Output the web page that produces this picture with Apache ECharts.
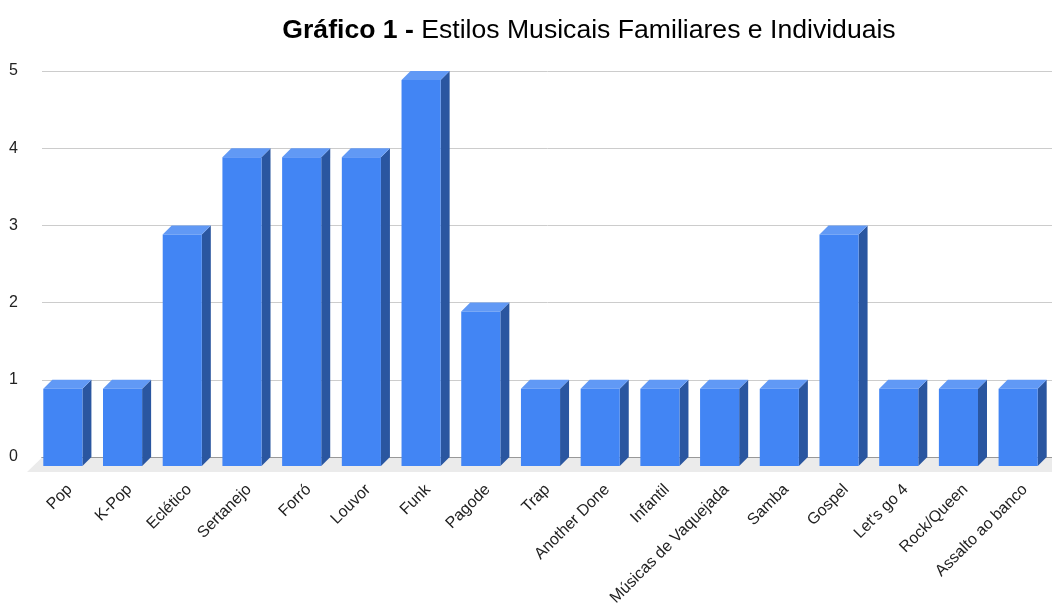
<!DOCTYPE html>
<html>
<head>
<meta charset="utf-8">
<script src="https://cdn.jsdelivr.net/npm/echarts@6/dist/echarts.min.js"></script>
<style>html,body{margin:0;padding:0;background:#fff}#c{width:1052px;height:609px}</style>
</head>
<body>
<div id="c"></div>
<script>
var categories = ["Pop","K-Pop","Eclético","Sertanejo","Forró","Louvor","Funk","Pagode","Trap","Another Done","Infantil","Músicas de Vaquejada","Samba","Gospel","Let's go 4","Rock/Queen","Assalto ao banco"];
var values = [1,1,3,4,4,4,5,2,1,1,1,1,1,3,1,1,1];
var yTicks = [0,1,2,3,4,5];

var FONT = '"Liberation Sans", Arial, sans-serif';
var D = 9;      // bar depth
var FD = 15;    // floor depth

var chart = echarts.init(document.getElementById('c'));
chart.setOption({
  animation: false,
  title: {
    text: '{b|Gráfico 1 - }{n|Estilos Musicais Familiares e Individuais}',
    left: 584, top: 12, textAlign: 'center',
    textStyle: {
      rich: {
        b: {fontFamily: FONT, fontSize: 26.6, fontWeight: 'bold', color: '#000'},
        n: {fontFamily: FONT, fontSize: 26.6, fontWeight: 'normal', color: '#000'}
      }
    }
  },
  grid: {left: 42, top: 71, width: 1015, bottom: 152, outerBoundsMode: 'none'},
  xAxis: {
    type: 'category', data: categories,
    axisTick: {show: false},
    axisLine: {show: true, lineStyle: {color: '#444', width: 1}},
    axisLabel: {interval: 0, rotate: 45, margin: 28, padding: [0, 3, 0, 0], fontFamily: FONT, fontSize: 16, color: '#222'}
  },
  yAxis: {
    type: 'value', min: 0, max: 5, interval: 1,
    axisLine: {show: false}, axisTick: {show: false},
    splitLine: {lineStyle: {color: '#cccccc'}},
    axisLabel: {margin: 24, fontFamily: FONT, fontSize: 16, color: '#222',
      formatter: function (v) { return yTicks.indexOf(v) >= 0 ? String(v) : ''; }}
  },
  series: [
    {
      type: 'custom', z: 1, clip: false, silent: true,
      data: [0],
      renderItem: function (params, api) {
        var cs = params.coordSys;
        var yb = api.coord([0, 0])[1];
        return {
          type: 'polygon',
          shape: {points: [[cs.x, yb + 0.5], [cs.x + cs.width + 40, yb + 0.5], [cs.x + cs.width + 40, yb + FD], [cs.x - FD, yb + FD]]},
          style: {fill: '#ebebeb'}
        };
      }
    },
    {
      type: 'custom', z: 3, clip: false,
      data: values.map(function (v, i) { return [i, v]; }),
      renderItem: function (params, api) {
        var idx = api.value(0), v = api.value(1);
        var top = api.coord([idx, v]);
        var base = api.coord([idx, 0]);
        var w = api.size([1, 0])[0] * 0.655;
        var x0 = top[0] - w / 2, x1 = top[0] + w / 2;
        var yt = top[1], yb = base[1];
        return {
          type: 'group',
          children: [
            {type: 'polygon', shape: {points: [[x1 - D, yt + D], [x1, yt], [x1, yb], [x1 - D, yb + D]]}, style: {fill: '#2a56a0'}},
            {type: 'polygon', shape: {points: [[x0 - D, yt + D], [x0, yt], [x1, yt], [x1 - D, yt + D]]}, style: {fill: '#6199f5'}},
            {type: 'rect', shape: {x: x0 - D, y: yt + D, width: w, height: yb - yt}, style: {fill: '#4285f4'}}
          ]
        };
      }
    }
  ]
});
</script>
</body>
</html>
